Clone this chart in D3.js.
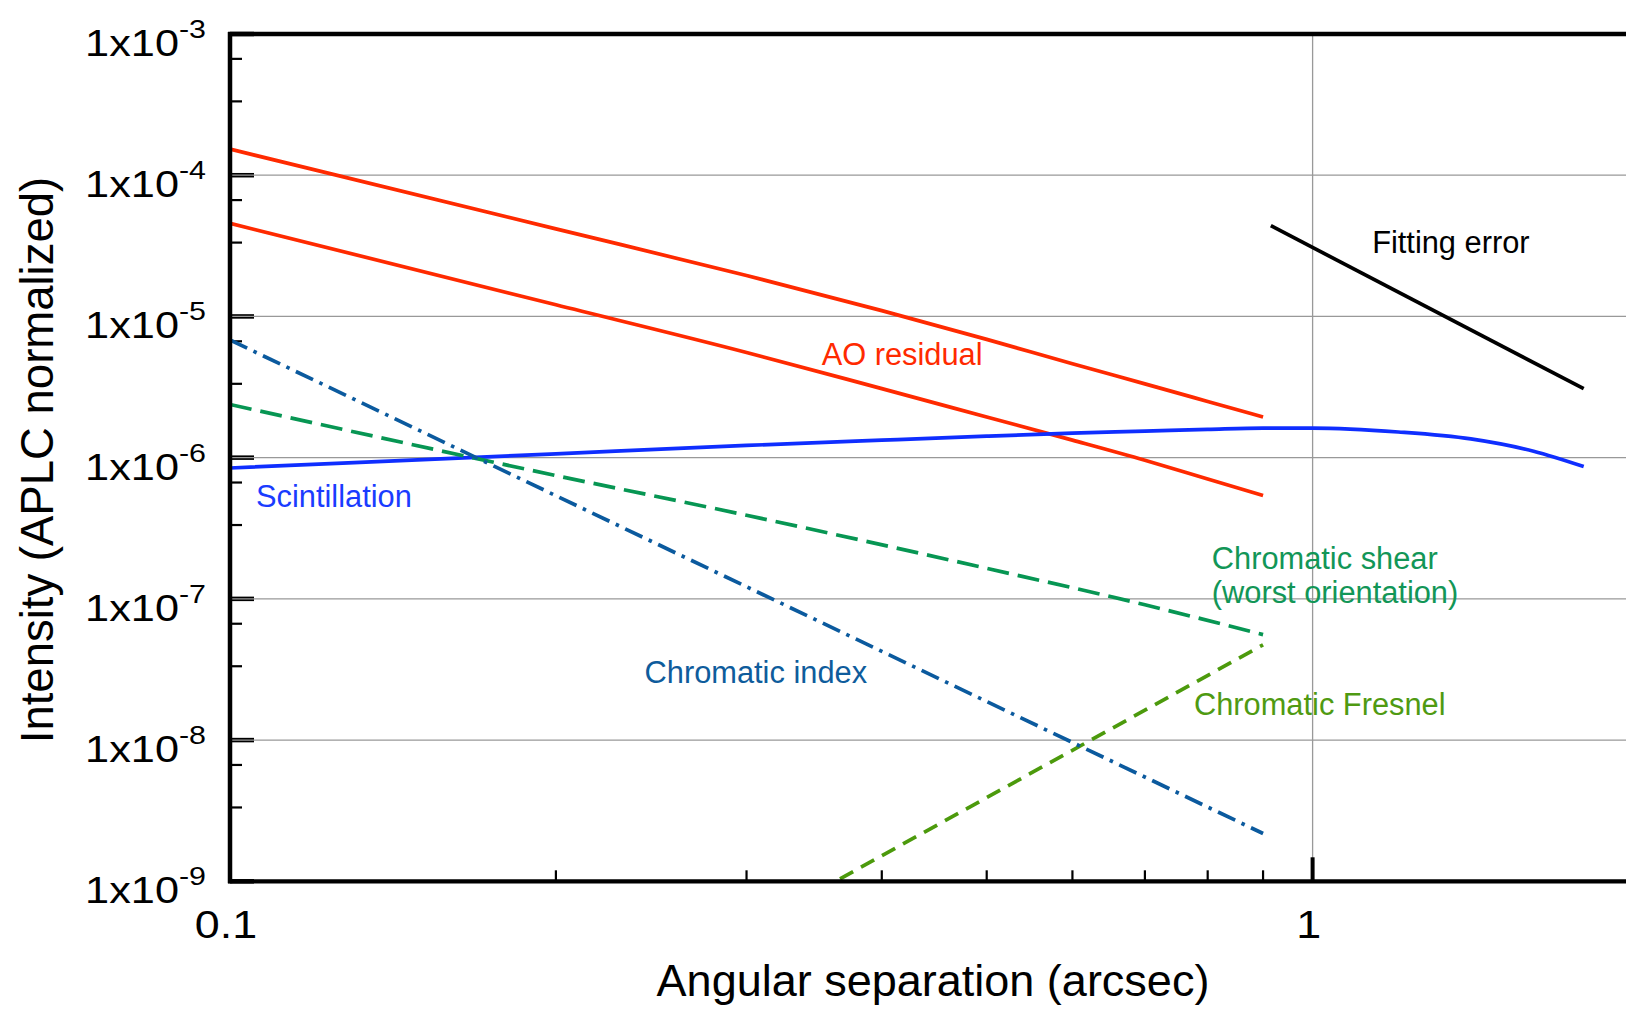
<!DOCTYPE html>
<html>
<head>
<meta charset="UTF-8">
<style>
  body { margin: 0; background: #fff; }
  svg { display: block; font-family: "Liberation Sans", Arial, Helvetica, sans-serif; }
  .grid { stroke: #999; stroke-width: 1.3; }
  .curve { fill: none; stroke-width: 3.7; }
</style>
</head>
<body>
<svg></svg>
<script src="https://cdn.jsdelivr.net/npm/d3@7"></script>
<script>
let width = 1626, height = 1009;

// angular separation (arcsec) vs intensity (APLC normalized)
var sepAO = [0.1, 0.2, 0.3, 0.4, 0.5, 0.6, 0.7, 0.8, 0.9];
var aoUpper = [1.53e-4, 4.17e-5, 1.95e-5, 1.10e-5, 6.88e-6, 4.62e-6, 3.33e-6, 2.50e-6, 1.94e-6];
var aoLower = [4.56e-5, 1.21e-5, 5.56e-6, 3.08e-6, 1.94e-6, 1.33e-6, 9.58e-7, 7.06e-7, 5.40e-7];

var sepScint = [0.1, 0.2, 0.3, 0.4, 0.5, 0.6, 0.7, 0.8, 0.9, 1.0, 1.2, 1.4, 1.6, 1.78];
var scintillation = [8.45e-7, 1.065e-6, 1.22e-6, 1.33e-6, 1.42e-6, 1.49e-6, 1.54e-6, 1.585e-6, 1.62e-6, 1.62e-6, 1.52e-6, 1.357e-6, 1.11e-6, 8.64e-7];

var sepFit = [0.915, 1.78];
var fitting = [4.39e-5, 3.08e-6];

var sepShear = [0.1, 0.2, 0.3, 0.5, 0.7, 0.9];
var shear = [2.38e-6, 7.47e-7, 3.91e-7, 1.645e-7, 9.08e-8, 5.58e-8];

var sepIndex = [0.1, 0.9];
var chromIndex = [6.81e-6, 2.18e-9];

var sepFresnel = [0.35, 0.9];
var fresnel = [8.62e-10, 4.73e-8];

// axis ticks
var yMajor = [1e-3, 1e-4, 1e-5, 1e-6, 1e-7, 1e-8, 1e-9];
var yExp = ["-3", "-4", "-5", "-6", "-7", "-8", "-9"];
var xMajor = [0.1, 1];
var xLabels = ["0.1", "1"];
var xMinor = [0.2, 0.3, 0.4, 0.5, 0.6, 0.7, 0.8, 0.9];

let x = d3.scaleLog().domain([0.1, 1]).range([230, 1312.6]);
let y = d3.scaleLog().domain([1e-9, 1e-3]).range([881.3, 34]);

let svg = d3.select("svg")
    .attr("width", width)
    .attr("height", height);

svg.append("defs").append("clipPath").attr("id", "plot")
  .append("rect")
    .attr("x", x(0.1)).attr("y", y(1e-3))
    .attr("width", width - x(0.1)).attr("height", y(1e-9) - y(1e-3));

// y ticks (major ones get the grid line drawn on top of them)
svg.selectAll(".ymaj")
    .data(yMajor)
    .enter().append("line")
    .attr("x1", x(0.1)).attr("x2", x(0.1) + 24)
    .attr("y1", d => y(d)).attr("y2", d => y(d))
    .attr("stroke", "#000").attr("stroke-width", 4.5);

// minor ticks at 2/3 and 1/3 of each decade
var yMinor = yMajor.slice(0, -1).flatMap(d => [d * 2 / 3, d / 3]);
svg.selectAll(".ymin")
    .data(yMinor)
    .enter().append("line")
    .attr("x1", x(0.1)).attr("x2", x(0.1) + 12)
    .attr("y1", d => y(d)).attr("y2", d => y(d))
    .attr("stroke", "#000").attr("stroke-width", 2.2);

svg.selectAll(".hgrid")
    .data(yMajor.slice(1, -1))
    .enter().append("line")
    .attr("class", "grid")
    .attr("x1", x(0.1)).attr("x2", width)
    .attr("y1", d => y(d)).attr("y2", d => y(d));

svg.append("line")
    .attr("class", "grid")
    .attr("x1", x(1)).attr("x2", x(1))
    .attr("y1", y(1e-3)).attr("y2", y(1e-9));

// curves
let line = (xs, ys) => d3.line()
    .x(i => x(xs[i]))
    .y(i => y(ys[i]))
    .curve(d3.curveMonotoneX)(d3.range(xs.length));

let curves = [
  {xs: sepAO, ys: aoUpper, color: "#ff2a00", dash: null},
  {xs: sepAO, ys: aoLower, color: "#ff2a00", dash: null},
  {xs: sepScint, ys: scintillation, color: "#0f2eff", dash: null},
  {xs: sepFit, ys: fitting, color: "#000000", dash: null},
  {xs: sepShear, ys: shear, color: "#079653", dash: "22,9"},
  {xs: sepFresnel, ys: fresnel, color: "#4c9a0c", dash: "15,9"},
  {xs: sepIndex, ys: chromIndex, color: "#0b5a9e", dash: "19,7,3.5,7"}
];

svg.append("g")
    .attr("clip-path", "url(#plot)")
    .selectAll("path")
    .data(curves)
    .enter().append("path")
    .attr("class", "curve")
    .attr("d", d => line(d.xs, d.ys))
    .attr("stroke", d => d.color)
    .attr("stroke-dasharray", d => d.dash);

// frame
svg.append("line")
    .attr("x1", x(0.1) - 2).attr("x2", width)
    .attr("y1", y(1e-3)).attr("y2", y(1e-3))
    .attr("stroke", "#000").attr("stroke-width", 4.3);
svg.append("line")
    .attr("x1", x(0.1)).attr("x2", x(0.1))
    .attr("y1", y(1e-3) - 2).attr("y2", y(1e-9) + 2)
    .attr("stroke", "#000").attr("stroke-width", 4.5);
svg.append("line")
    .attr("x1", x(0.1) - 2).attr("x2", width)
    .attr("y1", y(1e-9)).attr("y2", y(1e-9))
    .attr("stroke", "#000").attr("stroke-width", 4.2);

// x ticks
svg.selectAll(".xmin")
    .data(xMinor)
    .enter().append("line")
    .attr("x1", d => x(d)).attr("x2", d => x(d))
    .attr("y1", y(1e-9)).attr("y2", y(1e-9) - 11)
    .attr("stroke", "#000").attr("stroke-width", 2.2);
svg.selectAll(".xmaj")
    .data(xMajor)
    .enter().append("line")
    .attr("x1", d => x(d)).attr("x2", d => x(d))
    .attr("y1", y(1e-9)).attr("y2", y(1e-9) - 24)
    .attr("stroke", "#000").attr("stroke-width", 4);

// tick labels
let ylab = svg.selectAll(".ylab")
    .data(yMajor)
    .enter().append("text")
    .attr("transform", d => "translate(206," + (y(d) + 22) + ") scale(1.17,1)")
    .attr("text-anchor", "end")
    .attr("fill", "#000");
ylab.append("tspan").attr("font-size", 37).text("1x10");
ylab.append("tspan").attr("font-size", 26).attr("dy", -18).text((d, i) => yExp[i]);

svg.selectAll(".xlab")
    .data(xMajor)
    .enter().append("text")
    .attr("transform", d => "translate(" + (x(d) - 4) + ",938) scale(1.15,1)")
    .attr("text-anchor", "middle")
    .attr("font-size", 39)
    .text((d, i) => xLabels[i]);

// axis titles
svg.append("text")
    .attr("x", 933).attr("y", 996)
    .attr("text-anchor", "middle")
    .attr("font-size", 45)
    .text("Angular separation (arcsec)");
svg.append("text")
    .attr("transform", "translate(53,460) rotate(-90)")
    .attr("text-anchor", "middle")
    .attr("font-size", 45.5)
    .text("Intensity (APLC normalized)");

// curve labels
var notes = [
  {text: "AO residual", sep: 0.352, val: 4.53e-6, color: "#ff2a00"},
  {text: "Scintillation", sep: 0.1057, val: 4.45e-7, color: "#1a3cff"},
  {text: "Fitting error", sep: 1.135, val: 2.80e-5, color: "#000000"},
  {text: "Chromatic shear", sep: 0.807, val: 1.62e-7, color: "#129657"},
  {text: "(worst orientation)", sep: 0.807, val: 9.29e-8, color: "#129657"},
  {text: "Chromatic index", sep: 0.2415, val: 2.55e-8, color: "#0e5c9c"},
  {text: "Chromatic Fresnel", sep: 0.777, val: 1.503e-8, color: "#4f9a12"}
];

svg.selectAll(".note")
    .data(notes)
    .enter().append("text")
    .attr("x", d => x(d.sep))
    .attr("y", d => y(d.val))
    .attr("font-size", 30.8)
    .attr("fill", d => d.color)
    .text(d => d.text);
</script>
</body>
</html>
